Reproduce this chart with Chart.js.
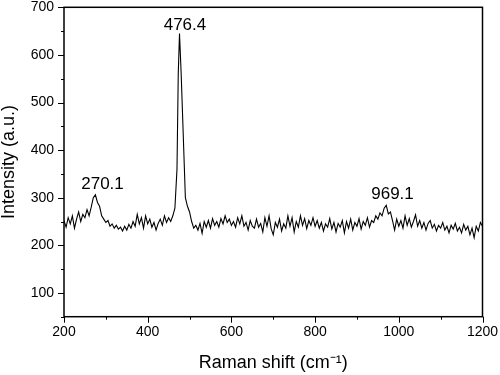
<!DOCTYPE html>
<html>
<head>
<meta charset="utf-8">
<script src="https://cdn.jsdelivr.net/npm/chart.js@4/dist/chart.umd.min.js"></script>
<style>
  html, body { margin: 0; padding: 0; background: #fff; }
  canvas { display: block; }
</style>
</head>
<body>
<canvas id="c" width="500" height="375"></canvas>
<script>
// Raman shift (cm-1)
const ramanShift = [
  200,205,210,215,220,225,230,235,240,245,
  250,255,260,265,270,275,280,285,290,295,
  300,305,310,315,320,325,330,335,340,345,
  350,355,360,365,370,375,380,385,390,395,
  400,405,410,415,420,425,430,435,440,445,
  450,455,460,465,470,473,476,480,485,490,495,
  500,505,510,515,520,525,530,535,540,545,
  550,555,560,565,570,575,580,585,590,595,
  600,605,610,615,620,625,630,635,640,645,
  650,655,660,665,670,675,680,685,690,695,
  700,705,710,715,720,725,730,735,740,745,
  750,755,760,765,770,775,780,785,790,795,
  800,805,810,815,820,825,830,835,840,845,
  850,855,860,865,870,875,880,885,890,895,
  900,905,910,915,920,925,930,935,940,945,
  950,955,960,965,970,975,980,985,990,995,
  1000,1005,1010,1015,1020,1025,1030,1035,1040,1045,
  1050,1055,1060,1065,1070,1075,1080,1085,1090,1095,
  1100,1105,1110,1115,1120,1125,1130,1135,1140,1145,
  1150,1155,1160,1165,1170,1175,1180,1185,1190,1195,
  1200
];
// Intensity (a.u.)
const intensity = [
  252,238,258,245,262,236,255,270,250,265,
  258,275,262,280,300,306,290,282,262,255,
  248,252,240,245,236,242,234,238,230,240,
  232,244,236,250,240,265,245,258,236,262,
  245,255,238,248,232,246,255,242,262,248,
  258,250,262,278,360,560,645,560,430,300,282,
  270,250,236,242,232,246,225,250,238,252,
  236,256,242,250,238,256,245,262,248,255,
  242,250,238,258,245,262,240,248,232,252,
  240,236,255,238,246,228,258,240,262,235,
  222,248,238,255,230,245,236,262,240,258,
  228,250,238,262,242,256,235,252,242,258,
  240,252,236,248,230,245,238,256,234,248,
  228,246,238,252,226,250,236,255,232,248,
  240,256,234,250,242,258,238,252,248,262,
  255,268,262,278,284,266,270,252,232,255,
  240,252,236,262,242,256,238,250,264,240,
  252,236,248,232,246,252,236,244,230,242,
  236,248,232,240,226,242,234,246,230,238,
  226,244,232,240,222,236,216,240,230,248,
  240
];
// Peak labels and their anchor positions (data units)
const peakLabels = ['270.1', '476.4', '969.1'];
const peakLabelX = [292, 489, 985];
const peakLabelY = [329, 663, 308];

const FONT = '"Liberation Sans", Arial, sans-serif';

const framePlugin = {
  id: 'framePlugin',
  afterDraw(chart) {
    const { ctx, chartArea: a, scales: { x, y } } = chart;
    ctx.save();
    ctx.strokeStyle = '#000';
    ctx.lineWidth = 1;
    ctx.beginPath();
    x.ticks.forEach(t => {
      const px = Math.round(x.getPixelForValue(t.value)) + 0.5;
      const len = t.value % 200 === 0 ? 6 : 3;
      ctx.moveTo(px, a.bottom);
      ctx.lineTo(px, a.bottom + len);
    });
    y.ticks.forEach(t => {
      const py = Math.round(y.getPixelForValue(t.value)) + 0.5;
      const len = t.value % 100 === 0 ? 6 : 3;
      ctx.moveTo(a.left, py);
      ctx.lineTo(a.left - len, py);
    });
    ctx.stroke();
    ctx.lineWidth = 1.5;
    ctx.strokeRect(a.left, a.top, a.right - a.left, a.bottom - a.top);
    ctx.fillStyle = '#000';
    ctx.font = '17px ' + FONT;
    ctx.textAlign = 'center';
    ctx.textBaseline = 'middle';
    peakLabels.forEach((txt, i) => {
      ctx.fillText(txt, x.getPixelForValue(peakLabelX[i]), y.getPixelForValue(peakLabelY[i]));
    });
    ctx.restore();
  }
};

new Chart(document.getElementById('c'), {
  type: 'scatter',
  data: {
    datasets: [{
      data: ramanShift.map((v, i) => ({ x: v, y: intensity[i] })),
      showLine: true,
      borderColor: '#000',
      borderWidth: 1.1,
      pointRadius: 0,
      tension: 0,
      fill: false
    }]
  },
  options: {
    responsive: false,
    animation: false,
    layout: { padding: { left: 0, right: 17.5, top: 7.3, bottom: 0 } },
    plugins: { legend: { display: false }, tooltip: { enabled: false } },
    scales: {
      x: {
        type: 'linear',
        min: 200, max: 1200,
        border: { display: false },
        grid: { drawOnChartArea: false, drawTicks: false },
        ticks: {
          stepSize: 100,
          autoSkip: false,
          maxRotation: 0,
          padding: 7,
          color: '#000',
          font: { family: FONT, size: 14 },
          callback: v => (v % 200 === 0 ? String(v) : '')
        },
        title: {
          display: true,
          text: 'Raman shift (cm⁻¹)',
          color: '#000',
          font: { family: FONT, size: 18 },
          padding: { top: 0, bottom: 1 }
        },
        afterFit: s => { s.height = 58.3; s.paddingLeft = 0; s.paddingRight = 0; }
      },
      y: {
        min: 50, max: 700,
        border: { display: false },
        grid: { drawOnChartArea: false, drawTicks: false },
        ticks: {
          stepSize: 50,
          autoSkip: false,
          padding: 10,
          color: '#000',
          font: { family: FONT, size: 14 },
          callback: v => (v % 100 === 0 ? String(v) : '')
        },
        title: {
          display: true,
          text: 'Intensity (a.u.)',
          color: '#000',
          font: { family: FONT, size: 18 },
          padding: { top: -2, bottom: 0 }
        },
        afterFit: s => { s.width = 64; s.paddingTop = 0; s.paddingBottom = 0; }
      }
    }
  },
  plugins: [framePlugin]
});
</script>
</body>
</html>
